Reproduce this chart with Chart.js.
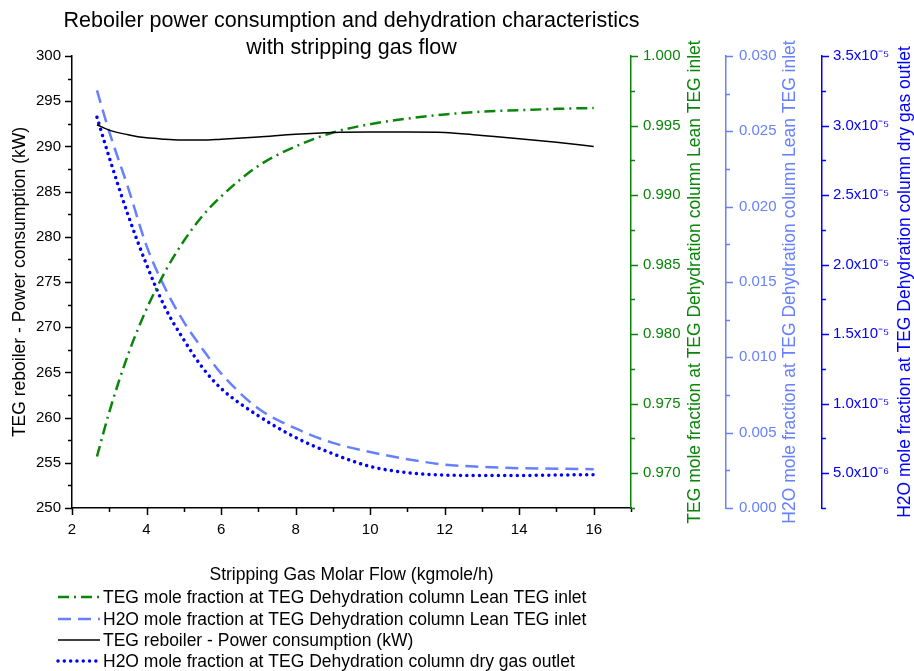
<!DOCTYPE html>
<html>
<head>
<meta charset="utf-8">
<title>Reboiler power consumption and dehydration characteristics</title>
<script src="https://cdn.jsdelivr.net/npm/chart.js"></script>
<style>
  html, body { margin: 0; padding: 0; background: #fff; }
  #wrap { width: 914px; height: 671px; position: relative; }
</style>
</head>
<body>
<div id="wrap"><canvas id="reboilerChart"></canvas></div>
<script>
// values
const flow = [2.67, 3, 3.5, 4, 4.5, 5, 5.5, 6, 7, 8, 9, 10, 11, 12, 13, 14, 15, 16];
const reboilerPower = [292.4, 291.8, 291.3, 290.95, 290.8, 290.7, 290.7, 290.8, 291.05, 291.35, 291.55, 291.6, 291.6, 291.55, 291.2, 290.85, 290.45, 290.0];
const tegLean = [0.9712, 0.9744, 0.9785, 0.9818, 0.9845, 0.9867, 0.9885, 0.9899, 0.9921, 0.9935, 0.9945, 0.9951, 0.9955, 0.9958, 0.996, 0.9961, 0.9962, 0.99626];
const h2oLean = [0.02772, 0.02496, 0.0213, 0.0174, 0.01458, 0.01236, 0.01056, 0.00894, 0.0066, 0.00528, 0.00432, 0.00372, 0.00324, 0.00288, 0.00273, 0.00264, 0.00261, 0.00258];
const h2oDry = [3.06e-5, 2.77e-5, 2.36e-5, 2.0e-5, 1.69e-5, 1.46e-5, 1.26e-5, 1.11e-5, 9.13e-6, 7.57e-6, 6.4e-6, 5.49e-6, 5.04e-6, 4.87e-6, 4.84e-6, 4.84e-6, 4.87e-6, 4.9e-6];

const titleLines = ["Reboiler power consumption and dehydration characteristics", "with stripping gas flow"];
const xTitle = "Stripping Gas Molar Flow (kgmole/h)";
const labelTeg = "TEG mole fraction at TEG Dehydration column Lean TEG inlet";
const labelH2oLean = "H2O mole fraction at TEG Dehydration column Lean TEG inlet";
const labelPower = "TEG reboiler - Power consumption (kW)";
const labelH2oDry = "H2O mole fraction at TEG Dehydration column dry gas outlet";

const GREEN = "#0a850a";
const LIGHTBLUE = "#6680ff";
const BLUE = "#0000ff";
const FONT = "'Liberation Sans', Arial, sans-serif";

function pts(ys) {
  return flow.map((x, i) => ({ x: x, y: ys[i] }));
}

const sup = { "-": "\u207B", "0": "\u2070", "1": "\u00B9", "2": "\u00B2", "3": "\u00B3", "4": "\u2074", "5": "\u2075", "6": "\u2076", "7": "\u2077", "8": "\u2078", "9": "\u2079" };
function sciLabel(v) {
  const e = Math.floor(Math.log10(v) + 1e-9);
  const m = v / Math.pow(10, e);
  return m.toFixed(1) + "x10" + String(e).split("").map(c => sup[c]).join("");
}

const near = (v, step) => Math.abs(v / step - Math.round(v / step)) < 1e-6;

// which ticks are long (major) ones
const majorTest = {
  x: v => near(v, 2),
  y: v => near(v, 5),
  yTeg: v => near(v, 0.005),
  yH2o: v => near(v, 0.005),
  yDry: v => near(v, 5e-6)
};

// own tick marks: long majors, short minors
const tickMarks = {
  id: "tickMarks",
  afterDraw(chart) {
    const ctx = chart.ctx;
    const colors = { x: "#000", y: "#000", yTeg: GREEN, yH2o: LIGHTBLUE, yDry: BLUE };
    Object.keys(majorTest).forEach(id => {
      const s = chart.scales[id];
      ctx.save();
      ctx.strokeStyle = colors[id];
      ctx.lineWidth = 1.5;
      s.ticks.forEach((t, i) => {
        const len = majorTest[id](t.value) ? 7 : 4;
        const p = Math.round(s.getPixelForTick(i)) + 0.5;
        ctx.beginPath();
        if (id === "x") {
          ctx.moveTo(p, s.top); ctx.lineTo(p, s.top + len);
        } else if (id === "y") {
          ctx.moveTo(s.right, p); ctx.lineTo(s.right - len, p);
        } else {
          ctx.moveTo(s.left, p); ctx.lineTo(s.left + len, p);
        }
        ctx.stroke();
      });
      ctx.restore();
    });
  }
};

// title, axis titles and legend drawn by hand
const decorations = {
  id: "decorations",
  afterDraw(chart) {
    const ctx = chart.ctx;
    const area = chart.chartArea;
    const midX = (area.left + area.right) / 2;
    const midY = (area.top + area.bottom) / 2;
    ctx.save();
    ctx.textAlign = "center";
    ctx.textBaseline = "middle";
    ctx.fillStyle = "#000";
    ctx.font = "21.5px " + FONT;
    ctx.fillText(titleLines[0], midX, 21);
    ctx.fillText(titleLines[1], midX, 48);

    ctx.font = "17.5px " + FONT;
    ctx.fillText(xTitle, midX, 575);

    const vTitle = (text, x, color) => {
      ctx.save();
      ctx.translate(x, midY);
      ctx.rotate(-Math.PI / 2);
      ctx.fillStyle = color;
      ctx.fillText(text, 0, 0);
      ctx.restore();
    };
    vTitle(labelPower, 20, "#000");
    vTitle(labelTeg, 695, GREEN);
    vTitle(labelH2oLean, 790, LIGHTBLUE);
    vTitle(labelH2oDry, 905, BLUE);

    // legend
    const order = [1, 2, 0, 3];
    const rowY = [597, 619, 640, 661];
    ctx.textAlign = "left";
    order.forEach((di, r) => {
      const ds = chart.data.datasets[di];
      const y = rowY[r];
      ctx.save();
      ctx.strokeStyle = ds.borderColor;
      ctx.lineWidth = ds.borderWidth;
      ctx.lineCap = ds.borderCapStyle || "butt";
      ctx.setLineDash(ds.borderDash || []);
      ctx.beginPath();
      ctx.moveTo(58, y);
      ctx.lineTo(100, y);
      ctx.stroke();
      ctx.restore();
      ctx.fillStyle = "#000";
      ctx.fillText(ds.label, 103, y + 1);
    });
    ctx.restore();
  }
};

const fixSize = (w, h) => scale => {
  if (w !== null) scale.width = w;
  if (h !== null) scale.height = h;
};

const tickFont = { family: FONT, size: 15 };

new Chart(document.getElementById("reboilerChart"), {
  type: "line",
  data: {
    datasets: [
      {
        label: labelPower,
        data: pts(reboilerPower),
        yAxisID: "y",
        borderColor: "#000",
        borderWidth: 1.5,
        pointRadius: 0,
        cubicInterpolationMode: "monotone"
      },
      {
        label: labelTeg,
        data: pts(tegLean),
        yAxisID: "yTeg",
        borderColor: GREEN,
        borderWidth: 2.5,
        borderDash: [11, 5, 2, 5],
        pointRadius: 0,
        cubicInterpolationMode: "monotone"
      },
      {
        label: labelH2oLean,
        data: pts(h2oLean),
        yAxisID: "yH2o",
        borderColor: LIGHTBLUE,
        borderWidth: 2.5,
        borderDash: [13, 7],
        pointRadius: 0,
        cubicInterpolationMode: "monotone"
      },
      {
        label: labelH2oDry,
        data: pts(h2oDry),
        yAxisID: "yDry",
        borderColor: BLUE,
        borderWidth: 3.5,
        borderDash: [0.01, 6.3],
        borderCapStyle: "round",
        pointRadius: 0,
        cubicInterpolationMode: "monotone"
      }
    ]
  },
  options: {
    responsive: true,
    maintainAspectRatio: false,
    animation: false,
    layout: { padding: { top: 56, bottom: 133, left: 0, right: 0 } },
    plugins: {
      legend: { display: false },
      tooltip: { enabled: false }
    },
    scales: {
      x: {
        type: "linear",
        position: "bottom",
        min: 2,
        max: 17,
        afterFit: fixSize(null, 30),
        grid: { display: false, drawTicks: false },
        border: { display: true, color: "#000", width: 1.5 },
        ticks: {
          stepSize: 1,
          autoSkip: false,
          maxRotation: 0,
          padding: 13,
          color: "#000",
          font: tickFont,
          callback: v => (near(v, 2) && v <= 16 ? String(v) : "")
        }
      },
      y: {
        position: "left",
        min: 250,
        max: 300,
        afterFit: fixSize(72, null),
        grid: { display: false, drawTicks: false },
        border: { display: true, color: "#000", width: 1.5 },
        ticks: {
          stepSize: 2.5,
          autoSkip: false,
          padding: 11,
          color: "#000",
          font: tickFont,
          callback: v => (near(v, 5) ? String(v) : "")
        }
      },
      yTeg: {
        position: "right",
        min: 0.9675,
        max: 1.0,
        afterFit: fixSize(95, null),
        grid: { display: false, drawTicks: false },
        border: { display: true, color: GREEN, width: 1.5 },
        ticks: {
          stepSize: 0.0025,
          autoSkip: false,
          padding: 12,
          color: GREEN,
          font: tickFont,
          callback: v => (near(v, 0.005) ? v.toFixed(3) : "")
        }
      },
      yH2o: {
        position: "right",
        min: 0,
        max: 0.03,
        afterFit: fixSize(96, null),
        grid: { display: false, drawTicks: false },
        border: { display: true, color: LIGHTBLUE, width: 1.5 },
        ticks: {
          stepSize: 0.0025,
          autoSkip: false,
          padding: 13,
          color: LIGHTBLUE,
          font: tickFont,
          callback: v => (near(v, 0.005) ? v.toFixed(3) : "")
        }
      },
      yDry: {
        position: "right",
        min: 2.5e-6,
        max: 3.5e-5,
        afterFit: fixSize(92, null),
        grid: { display: false, drawTicks: false },
        border: { display: true, color: BLUE, width: 1.5 },
        ticks: {
          stepSize: 2.5e-6,
          autoSkip: false,
          padding: 11,
          color: BLUE,
          font: tickFont,
          callback: v => (near(v, 5e-6) ? sciLabel(v) : "")
        }
      }
    }
  },
  plugins: [tickMarks, decorations]
});
</script>
</body>
</html>
